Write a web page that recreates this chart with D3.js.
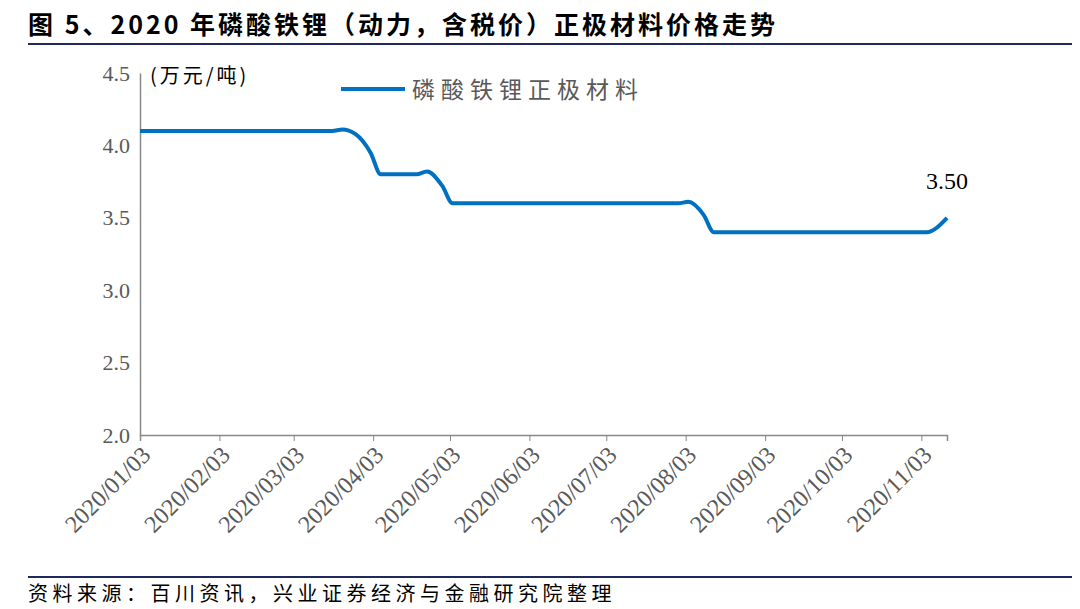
<!DOCTYPE html>
<html><head><meta charset="utf-8">
<script src="https://cdn.jsdelivr.net/npm/d3@7"></script>
<style>body{margin:0;background:#fff}</style>
</head><body><div id="chart"></div>
<script>
// price points (date, 万元/吨)
var dates = ["2020-01-03","2020-03-10","2020-03-18","2020-03-22","2020-03-27","2020-04-02","2020-04-06","2020-04-12","2020-04-20","2020-04-24","2020-04-30","2020-05-04","2020-05-12","2020-07-20","2020-07-31","2020-08-04","2020-08-10","2020-08-14","2020-08-22","2020-10-20","2020-11-05","2020-11-13"];
var prices = [4.1,4.1,4.1,4.11,4.08,3.95,3.8,3.8,3.8,3.82,3.72,3.6,3.6,3.6,3.6,3.61,3.52,3.4,3.4,3.4,3.4,3.5];
var tickLabels = ["2020/01/03","2020/02/03","2020/03/03","2020/04/03","2020/05/03","2020/06/03","2020/07/03","2020/08/03","2020/09/03","2020/10/03","2020/11/03"];
var yTicks = [2.0,2.5,3.0,3.5,4.0,4.5];

var W = 1080, H = 609;
var svg = d3.select("#chart").append("svg").attr("width", W).attr("height", H);
var parse = d3.timeParse("%Y-%m-%d"), parseT = d3.timeParse("%Y/%m/%d");
var data = dates.map(function(d, i) { return {date: parse(d), v: prices[i]}; });

var x = d3.scaleTime().domain([parse("2020-01-03"), parse("2020-11-13")]).range([140, 947]);
var y = d3.scaleLinear().domain([2, 4.5]).range([435, 73]);

svg.append("text").attr("x", 28).attr("y", 34)
  .style("font-family", "Noto Sans CJK SC").style("font-size", "25px").style("font-weight", "bold")
  .style("letter-spacing", "3px")
  .text("图 5、2020 年磷酸铁锂（动力，含税价）正极材料价格走势");
svg.append("line").attr("x1", 28).attr("x2", 1072).attr("y1", 44).attr("y2", 44)
  .attr("stroke", "#1f2a5c").attr("stroke-width", 2);
svg.append("line").attr("x1", 28).attr("x2", 1072).attr("y1", 577).attr("y2", 577)
  .attr("stroke", "#1f2a5c").attr("stroke-width", 2);
svg.append("text").attr("x", 28).attr("y", 601)
  .style("font-family", "Noto Sans CJK SC").style("font-size", "20px").style("letter-spacing", "4.5px")
  .text("资料来源：百川资讯，兴业证券经济与金融研究院整理");

var xAxis = svg.append("g").attr("transform", "translate(0,435)")
  .call(d3.axisBottom(x).tickValues(tickLabels.map(parseT)).tickFormat(d3.timeFormat("%Y/%m/%d")).tickSizeOuter(0).tickSize(6));
xAxis.selectAll("text").attr("transform", "rotate(-45)").attr("text-anchor", "end")
  .attr("dx", "-0.3em").attr("dy", "0.6em")
  .style("font-family", "Liberation Serif").style("font-size", "24px").attr("fill", "#595959");

var yAxis = svg.append("g").attr("transform", "translate(140,0)")
  .call(d3.axisLeft(y).tickValues(yTicks).tickFormat(d3.format(".1f")).tickSizeOuter(0).tickSize(0).tickPadding(10));
yAxis.selectAll("text").style("font-family", "Liberation Serif").style("font-size", "22px").attr("fill", "#595959");
svg.selectAll(".domain").attr("stroke", "#888").attr("stroke-width", 1.5);
svg.selectAll(".tick line").attr("stroke", "#888");

var line = d3.line().x(function(d) { return x(d.date); }).y(function(d) { return y(d.v); }).curve(d3.curveMonotoneX);
svg.append("path").datum(data).attr("d", line).attr("fill", "none").attr("stroke", "#0070C0").attr("stroke-width", 4);

svg.append("text").attr("x", 150).attr("y", 83)
  .style("font-family", "Noto Sans CJK SC").style("font-size", "20px").style("letter-spacing", "3px").text("(万元/吨)");
svg.append("line").attr("x1", 341).attr("x2", 405).attr("y1", 89).attr("y2", 89).attr("stroke", "#0070C0").attr("stroke-width", 4);
svg.append("text").attr("x", 412).attr("y", 98).attr("fill", "#595959")
  .style("font-family", "Noto Sans CJK SC").style("font-size", "23px").style("letter-spacing", "6px").text("磷酸铁锂正极材料");
var last = data[data.length - 1];
svg.append("text").attr("x", x(last.date)).attr("y", 189).attr("text-anchor", "middle")
  .style("font-family", "Liberation Serif").style("font-size", "24px").text(d3.format(".2f")(last.v));
</script></body></html>
